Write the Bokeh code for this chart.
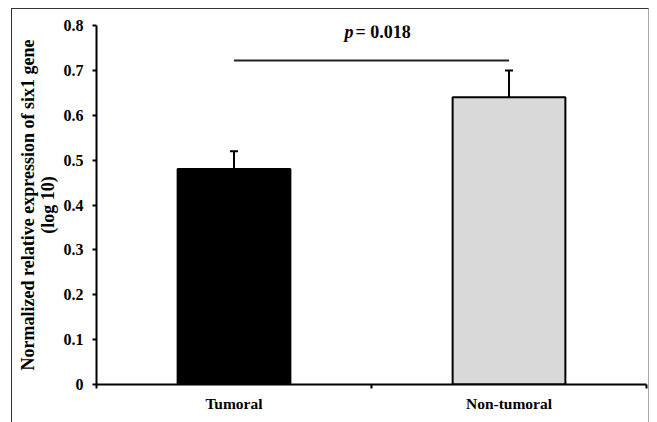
from bokeh.plotting import figure
from bokeh.models import Range1d, FixedTicker, Whisker, TeeHead, ColumnDataSource, InlineStyleSheet
from bokeh.core.properties import value
from bokeh.embed import file_html
from bokeh.resources import INLINE

# ---- data ----
categories = ["Tumoral", "Non-tumoral"]
means = [0.48, 0.64]
errors = [0.04, 0.06]
bar_colors = ["#000000", "#d9d9d9"]
y_ticks = [0, 0.1, 0.2, 0.3, 0.4, 0.5, 0.6, 0.7, 0.8]
sig_level = 0.722
p_text_level = 0.785
p_value_text = "= 0.018"
y_label = "Normalized relative expression of six1 gene\n(log 10)"

FONT = "Liberation Serif"

n = len(categories)
xs = [i + 0.5 for i in range(n)]
src = ColumnDataSource(dict(
    x=xs, top=means, upper=[m + e for m, e in zip(means, errors)],
    color=bar_colors,
))

W, H = 649, 414
frame_css = InlineStyleSheet(css="""
:host { position: relative; }
:host::after {
  content: "";
  position: absolute;
  left: 11px; top: 8px; right: 0px; bottom: -20px;
  border-left: 1.5px solid #333;
  border-top: 1.5px solid #333;
  border-right: 1px solid #aaa;
  pointer-events: none;
  z-index: 1000;
}
""")

p = figure(width=W, height=H, x_range=Range1d(0, n), y_range=Range1d(0, 0.8),
           output_backend="svg", toolbar_location=None,
           min_border_left=96, min_border_top=25, min_border_right=3, min_border_bottom=30)
p.stylesheets = [frame_css]
p.background_fill_color = "white"
p.border_fill_color = "white"
p.outline_line_color = None
p.xgrid.grid_line_color = None
p.ygrid.grid_line_color = None

# bars
p.vbar(x="x", top="top", width=0.41, source=src, fill_color="color",
       line_color="black", line_width=2)

# error bars
wh = Whisker(base="x", upper="upper", lower="top", source=src,
             upper_head=TeeHead(size=8, line_width=2, line_color="black"),
             lower_head=None, line_width=2, line_color="black")
p.add_layout(wh)

# significance line and label
p.segment(x0=[xs[0]], x1=[xs[-1]], y0=[sig_level], y1=[sig_level],
          line_width=2, line_color="#222222")
mid = n / 2
p.text(x=[mid], y=[p_text_level], text=["p"], text_font=value(FONT),
       text_font_style="bold italic", text_font_size="18px",
       text_align="right", text_baseline="middle", x_offset=-18, text_color="black")
p.text(x=[mid], y=[p_text_level], text=[p_value_text], text_font=value(FONT),
       text_font_style="bold", text_font_size="18px",
       text_align="left", text_baseline="middle", x_offset=-16, text_color="black")

# x axis
xax = p.xaxis[0]
xax.ticker = FixedTicker(ticks=xs, minor_ticks=list(range(n + 1)))
xax.major_label_overrides = {x: c for x, c in zip(xs, categories)}
xax.major_tick_out = 0
xax.major_tick_in = 0
xax.minor_tick_out = 4
xax.minor_tick_in = 0
xax.minor_tick_line_width = 2
xax.minor_tick_line_color = "black"
xax.axis_line_width = 2
xax.axis_line_color = "black"
xax.major_label_text_font = FONT
xax.major_label_text_font_style = "bold"
xax.major_label_text_font_size = "15.5px"
xax.major_label_text_color = "black"
xax.major_label_standoff = 6

# y axis
yax = p.yaxis[0]
yax.ticker = FixedTicker(ticks=y_ticks)
yax.major_label_overrides = {0: "0"}
yax.major_tick_out = 4
yax.major_tick_in = 0
yax.major_tick_line_width = 2
yax.minor_tick_line_color = None
yax.axis_line_width = 2
yax.axis_line_color = "black"
yax.major_label_text_font = FONT
yax.major_label_text_font_style = "bold"
yax.major_label_text_font_size = "16px"
yax.major_label_text_color = "black"
yax.major_label_standoff = 9
yax.axis_label = y_label
yax.axis_label_text_font = FONT
yax.axis_label_text_font_style = "bold"
yax.axis_label_text_font_size = "18px"
yax.axis_label_text_line_height = 1.0
yax.axis_label_text_align = "center"
yax.axis_label_text_color = "black"
yax.axis_label_standoff = 3

open("out.html", "w").write(file_html(p, INLINE))
